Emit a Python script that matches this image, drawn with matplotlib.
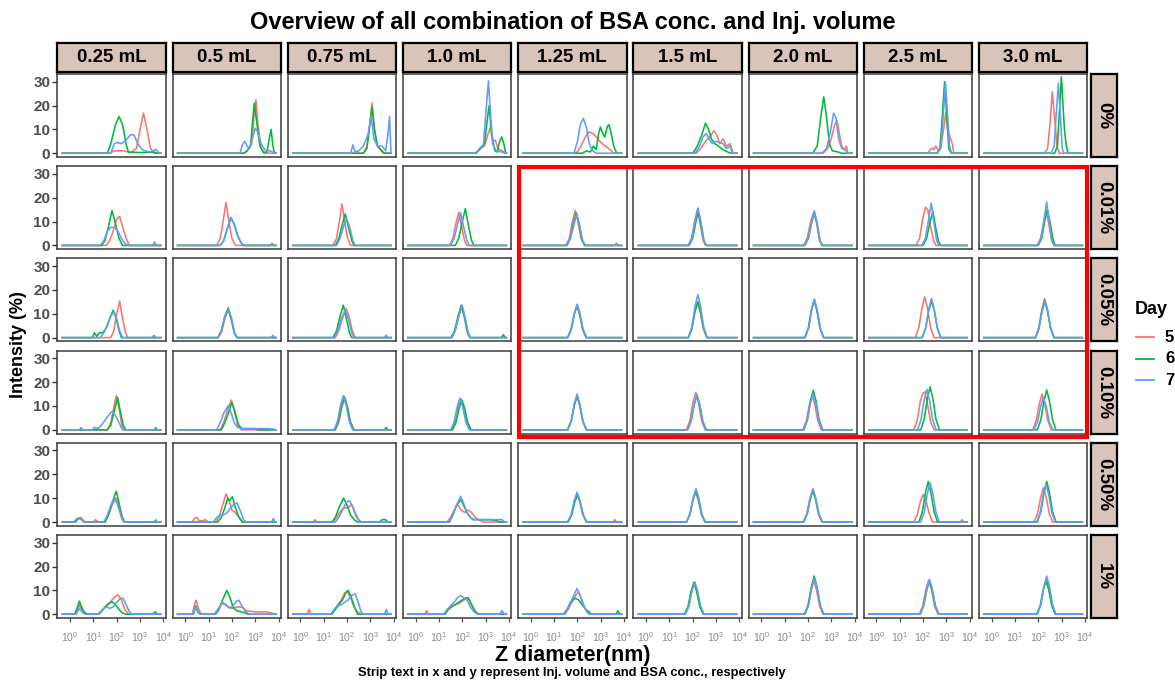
import numpy as np
import matplotlib
matplotlib.use("Agg")
import matplotlib.pyplot as plt
from matplotlib.patches import Rectangle
from matplotlib.lines import Line2D

plt.rcParams['font.family'] = ['Liberation Sans', 'DejaVu Sans']
plt.rcParams['mathtext.fontset'] = 'custom'
plt.rcParams['mathtext.rm'] = 'Liberation Sans'

# ---------------- data ----------------
TITLE = "Overview of all combination of BSA conc. and Inj. volume"
X_TITLE = "Z diameter(nm)"
Y_TITLE = "Intensity (%)"
CAPTION = "Strip text in x and y represent Inj. volume and BSA conc., respectively"
VOLUMES = ["0.25 mL", "0.5 mL", "0.75 mL", "1.0 mL", "1.25 mL", "1.5 mL", "2.0 mL", "2.5 mL", "3.0 mL"]
CONCS = ["0%", "0.01%", "0.05%", "0.10%", "0.50%", "1%"]
DAYS = ["5", "6", "7"]
DAY_COLORS = ["#F8766D", "#00BA38", "#619CFF"]
SIZE_RANGE_LOG = (-0.33, 3.89)   # log10 of measured size range (nm)
X_TICKS = [1, 10, 100, 1000, 10000]
X_TICK_LABELS = [r"$\mathregular{10^{0}}$", r"$\mathregular{10^{1}}$", r"$\mathregular{10^{2}}$",
                 r"$\mathregular{10^{3}}$", r"$\mathregular{10^{4}}$"]
Y_TICKS = [0, 10, 20, 30]

# each panel: (day5, day6, day7), each curve: list of (log10 diameter, intensity %)
CONC_0 = [
    ([(1.7,0),(1.9,1),(2.3,1),(2.6,0.3),(2.85,2),(3.0,10),(3.15,16.8),(3.3,10),(3.45,2),(3.6,0)],
     [(1.6,0),(1.75,4),(1.95,12),(2.1,15.4),(2.25,12),(2.4,4),(2.5,0.5),(3.0,0.3),(3.6,0.5),(3.7,0)],
     [(1.75,0),(1.9,4),(2.0,4.5),(2.2,4),(2.4,5.5),(2.6,7.8),(2.75,7.5),(2.9,4),(3.1,1.5),(3.4,0.5),(3.6,1.2),(3.7,1.6),(3.8,0)]),
    ([(2.55,0),(2.7,1.5),(2.85,4),(2.95,16),(3.03,22.4),(3.12,12),(3.25,2),(3.4,0)],
     [(2.5,0),(2.65,1),(2.8,3),(2.9,15),(2.96,21),(3.05,14),(3.2,3),(3.35,0.3),(3.5,0.5),(3.6,6),(3.68,10),(3.76,3),(3.82,0)],
     [(2.35,0),(2.45,3.5),(2.55,5),(2.65,3),(2.75,2),(2.9,7),(3.0,10.5),(3.1,9),(3.25,4),(3.4,1.5),(3.6,1),(3.75,0.5),(3.85,0)]),
    ([(2.7,0),(2.85,3),(2.95,10),(3.07,21),(3.17,10),(3.3,3),(3.45,1),(3.55,0)],
     [(2.7,0),(2.85,2),(2.97,12),(3.07,19.4),(3.17,10),(3.3,3),(3.5,1),(3.6,0)],
     [(2.15,0),(2.25,3.5),(2.35,0.5),(2.5,1),(2.7,3),(2.9,8),(3.03,15.5),(3.15,6),(3.3,3),(3.5,3),(3.65,1),(3.75,8),(3.82,15.4),(3.88,0)]),
    ([(2.6,0),(2.75,2),(2.95,3),(3.1,8),(3.22,11),(3.32,5),(3.42,5.5),(3.52,2),(3.7,1),(3.85,0)],
     [(2.6,0),(2.75,2),(2.95,4),(3.07,14),(3.15,20),(3.25,8),(3.4,1),(3.5,0.5),(3.6,5),(3.69,6.8),(3.78,4),(3.86,0)],
     [(2.5,0),(2.7,1),(2.9,3),(3.02,18),(3.12,30.3),(3.2,18),(3.3,4),(3.45,1),(3.7,0.5),(3.85,0)]),
    ([(1.95,0),(2.15,3),(2.35,7),(2.5,9),(2.7,8),(2.95,5),(3.2,3),(3.4,1.5),(3.55,0)],
     [(2.2,0),(2.4,1),(2.55,0.5),(2.68,3),(2.8,1.5),(2.9,8),(2.98,11),(3.1,8),(3.17,6.8),(3.27,11),(3.35,12),(3.45,8),(3.55,3),(3.68,0)],
     [(1.85,0),(2.0,5),(2.12,12),(2.25,14.6),(2.38,11),(2.5,4),(2.65,1),(2.8,0)]),
    ([(2.15,0),(2.35,2),(2.55,5),(2.75,7),(2.9,9.4),(3.02,8),(3.15,4),(3.3,6),(3.45,3),(3.6,4),(3.7,1),(3.75,0)],
     [(2.0,0),(2.2,3),(2.4,8),(2.55,12.6),(2.68,10),(2.8,6),(2.95,4),(3.1,3),(3.3,1.5),(3.5,0.5),(3.65,0)],
     [(2.1,0),(2.3,3),(2.45,7),(2.58,8.2),(2.7,6),(2.85,4),(3.0,5),(3.15,4.5),(3.3,4),(3.45,2),(3.6,3),(3.7,0)]),
    ([(2.65,0),(2.85,2),(3.0,6),(3.15,12),(3.25,13.6),(3.35,8),(3.45,3),(3.55,1.5),(3.65,3),(3.72,0)],
     [(2.2,0),(2.4,3),(2.55,15),(2.68,23.6),(2.8,15),(2.92,4),(3.05,1),(3.3,0.5),(3.45,0)],
     [(2.6,0),(2.8,2),(2.95,8),(3.1,16.8),(3.2,15),(3.32,6),(3.45,2),(3.6,1.5),(3.7,0)]),
    ([(2.2,0),(2.35,2),(2.45,1.5),(2.55,3),(2.65,1),(2.75,2),(2.88,10),(2.97,17),(3.05,10),(3.15,7),(3.25,4),(3.32,0)],
     [(2.6,0),(2.72,2),(2.82,15),(2.92,30),(3.02,15),(3.1,2),(3.2,0)],
     [(2.62,0),(2.75,2),(2.85,14),(2.96,29.5),(3.05,16),(3.13,3),(3.22,0)]),
    ([(2.25,0),(2.4,2),(2.5,12),(2.6,25.7),(2.7,15),(2.8,3),(2.9,0)],
     [(2.7,0),(2.82,3),(2.92,20),(2.99,32),(3.06,20),(3.12,10),(3.2,3),(3.28,0)],
     [(2.55,0),(2.68,3),(2.78,18),(2.86,29.3),(2.95,15),(3.03,2),(3.1,0)]),
]

CONC_001 = [
    ([(1.55,0),(1.7,2),(1.85,6),(2.0,11),(2.12,12.2),(2.25,8),(2.4,3),(2.55,0)],
     [(1.35,0),(1.5,2),(1.65,8),(1.8,14.6),(1.95,9),(2.1,3),(2.25,0)],
     [(1.3,0),(1.45,2),(1.6,6),(1.75,7.6),(1.9,7.5),(2.05,6),(2.2,3),(2.35,1),(2.5,0),(3.55,0),(3.62,1.5),(3.7,0)]),
    ([(1.35,0),(1.5,3),(1.62,10),(1.75,18),(1.87,10),(2.0,3),(2.15,0),(3.65,0),(3.72,1),(3.8,0)],
     [(1.5,0),(1.65,2),(1.8,7),(1.97,11.5),(2.1,9),(2.25,4),(2.4,1),(2.5,0)],
     [(1.5,0),(1.65,2),(1.8,7),(1.95,11.8),(2.08,9),(2.25,4),(2.4,1),(2.5,0)]),
    ([(1.4,0),(1.55,3),(1.67,10),(1.78,17.4),(1.9,10),(2.02,3),(2.15,0)],
     [(1.5,0),(1.65,3),(1.8,9),(1.92,13.2),(2.05,8),(2.2,2),(2.3,0)],
     [(1.55,0),(1.7,3),(1.85,8),(1.98,11.1),(2.1,8),(2.25,2),(2.35,0)]),
    ([(1.45,0),(1.6,3),(1.72,9),(1.85,13.9),(1.97,8),(2.1,2),(2.2,0)],
     [(1.7,0),(1.85,3),(2.0,10),(2.13,15.4),(2.25,9),(2.4,2),(2.5,0)],
     [(1.5,0),(1.65,3),(1.8,9),(1.93,13.6),(2.05,8),(2.2,2),(2.3,0)]),
    ([(1.5,0),(1.65,3),(1.78,10),(1.9,14.6),(2.02,10),(2.15,3),(2.3,0),(3.6,0),(3.67,1),(3.75,0)],
     [(1.55,0),(1.7,3),(1.82,9),(1.95,13.6),(2.07,9),(2.2,2),(2.32,0)],
     [(1.55,0),(1.7,3),(1.83,8),(1.96,12.9),(2.08,9),(2.22,2),(2.35,0)]),
    ([(1.8,0),(1.95,3),(2.08,10),(2.2,15),(2.32,9),(2.45,2),(2.55,0)],
     [(1.85,0),(2.0,3),(2.12,9),(2.23,14.3),(2.35,9),(2.48,2),(2.58,0)],
     [(1.82,0),(1.97,3),(2.1,10),(2.23,15.7),(2.35,10),(2.48,2),(2.58,0)]),
    ([(1.82,0),(1.97,3),(2.12,10),(2.25,14),(2.38,9),(2.5,2),(2.6,0)],
     [(1.87,0),(2.02,3),(2.15,9),(2.27,13.8),(2.4,9),(2.52,2),(2.62,0)],
     [(1.87,0),(2.02,3),(2.15,9),(2.28,14.5),(2.4,9),(2.52,2),(2.62,0)]),
    ([(1.7,0),(1.85,3),(1.98,11),(2.1,16),(2.2,15),(2.32,8),(2.45,2),(2.55,0)],
     [(2.0,0),(2.15,3),(2.28,9),(2.42,14.3),(2.53,8),(2.65,2),(2.75,0)],
     [(1.95,0),(2.1,3),(2.22,10),(2.35,17.8),(2.47,9),(2.58,2),(2.68,0)]),
    ([(1.95,0),(2.1,3),(2.22,9),(2.33,14.3),(2.45,9),(2.57,2),(2.67,0)],
     [(2.0,0),(2.15,3),(2.27,10),(2.38,15),(2.5,10),(2.62,3),(2.72,0)],
     [(1.98,0),(2.12,3),(2.25,11),(2.36,18.2),(2.47,10),(2.58,2),(2.68,0)]),
]

CONC_005 = [
    ([(1.75,0),(1.88,3),(2.0,10),(2.13,15.3),(2.25,8),(2.38,2),(2.48,0)],
     [(0.95,0),(1.05,2),(1.15,0.5),(1.25,2),(1.4,2),(1.55,4),(1.7,8),(1.85,11.5),(1.98,8),(2.1,3),(2.2,0)],
     [(1.3,0),(1.45,2),(1.6,5),(1.75,9),(1.88,10.8),(2.0,8),(2.12,3),(2.25,0),(3.5,0),(3.6,1),(3.7,0)]),
    ([(1.4,0),(1.55,2),(1.7,8),(1.84,11.5),(1.97,8),(2.1,2),(2.22,0)],
     [(1.4,0),(1.55,3),(1.7,9),(1.84,12.5),(1.97,8),(2.1,2),(2.22,0)],
     [(1.4,0),(1.55,3),(1.7,9),(1.86,12),(1.99,8),(2.12,2),(2.25,0),(3.68,0),(3.76,1),(3.84,0)]),
    ([(1.5,0),(1.65,3),(1.8,8),(1.96,12.2),(2.08,9),(2.22,3),(2.35,0)],
     [(1.4,0),(1.55,3),(1.7,9),(1.84,13.6),(1.97,8),(2.1,2),(2.2,0)],
     [(1.45,0),(1.6,3),(1.75,8),(1.92,11.5),(2.05,8),(2.2,2),(2.3,0),(3.6,0),(3.67,1),(3.75,0)]),
    ([(1.55,0),(1.7,3),(1.85,9),(1.98,13.5),(2.1,9),(2.25,2),(2.35,0)],
     [(1.52,0),(1.67,3),(1.82,9),(1.95,13.6),(2.08,9),(2.22,2),(2.32,0),(3.68,0),(3.76,1.2),(3.84,0)],
     [(1.55,0),(1.7,3),(1.85,9),(1.99,13.6),(2.11,9),(2.25,2),(2.35,0)]),
    ([(1.57,0),(1.72,3.3),(1.85,9.6),(1.97,13.3),(2.09,9.6),(2.22,3.3),(2.37,0)],
     [(1.58,0),(1.73,3.4),(1.86,9.8),(1.98,13.6),(2.1,9.8),(2.23,3.4),(2.38,0)],
     [(1.59,0),(1.74,3.5),(1.87,10),(1.99,14),(2.11,10),(2.24,3.5),(2.39,0)]),
    ([(1.8,0),(1.95,3.8),(2.08,10.8),(2.2,15),(2.32,10.8),(2.45,3.8),(2.6,0)],
     [(1.82,0),(1.97,3.8),(2.1,10.8),(2.22,15),(2.34,10.8),(2.47,3.8),(2.62,0)],
     [(1.82,0),(1.97,4.5),(2.1,13),(2.22,18),(2.34,13),(2.47,4.5),(2.62,0)]),
    ([(1.87,0),(2.02,3.9),(2.15,11.2),(2.27,15.5),(2.39,11.2),(2.52,3.9),(2.67,0)],
     [(1.87,0),(2.02,4),(2.15,11.4),(2.27,15.8),(2.39,11.4),(2.52,4),(2.67,0)],
     [(1.88,0),(2.03,4),(2.16,11.7),(2.28,16.2),(2.4,11.7),(2.53,4),(2.68,0)]),
    ([(1.67,0),(1.82,4.3),(1.95,12.3),(2.07,17.1),(2.19,12.3),(2.32,4.3),(2.47,0)],
     [(1.96,0),(2.11,3.9),(2.24,11.2),(2.36,15.5),(2.48,11.2),(2.61,3.9),(2.76,0)],
     [(1.96,0),(2.11,4.1),(2.24,11.8),(2.36,16.4),(2.48,11.8),(2.61,4.1),(2.76,0)]),
    ([(1.87,0),(2.02,4.1),(2.15,11.8),(2.27,16.4),(2.39,11.8),(2.52,4.1),(2.67,0)],
     [(1.88,0),(2.03,3.9),(2.16,11.2),(2.28,15.5),(2.4,11.2),(2.53,3.9),(2.68,0)],
     [(1.88,0),(2.03,3.8),(2.16,10.9),(2.28,15.2),(2.4,10.9),(2.53,3.8),(2.68,0)]),
]

CONC_010 = [
    ([(1.6,0),(1.75,3),(1.87,9),(1.98,14.3),(2.1,9),(2.22,2),(2.32,0)],
     [(1.6,0),(1.75,2),(1.9,8),(2.04,13.6),(2.15,8),(2.28,2),(2.38,0)],
     [(0.4,0),(0.47,1),(0.55,0),(0.95,0),(1.05,1),(1.2,0.5),(1.35,2),(1.5,4),(1.65,6),(1.8,7.8),(1.95,6),(2.1,3),(2.25,0),(3.6,0),(3.67,1),(3.75,0)]),
    ([(1.5,0),(1.65,3),(1.8,8),(1.98,12.5),(2.1,8),(2.25,2),(2.4,0)],
     [(1.55,0),(1.7,3),(1.85,7),(2.0,11.5),(2.12,8),(2.28,2),(2.45,0.5),(3.0,0.5),(3.1,0)],
     [(1.35,0),(1.5,3),(1.65,7),(1.84,10.1),(1.97,7),(2.1,3),(2.25,1),(2.5,0.5),(3.6,0.5),(3.8,0.3),(3.85,0)]),
    ([(1.5,0),(1.65,3.3),(1.78,9.6),(1.9,13.3),(2.02,9.6),(2.15,3.3),(2.3,0)],
     [(1.48,0),(1.63,3.5),(1.76,10),(1.88,13.9),(2.0,10),(2.13,3.5),(2.28,0),(3.6,0),(3.67,1),(3.74,0)],
     [(1.44,0),(1.59,3.6),(1.72,10.3),(1.84,14.3),(1.96,10.3),(2.09,3.6),(2.24,0)]),
    ([(1.55,0),(1.7,3.2),(1.83,9.2),(1.95,12.8),(2.07,9.2),(2.2,3.2),(2.35,0)],
     [(1.58,0),(1.73,3.1),(1.86,9),(1.98,12.5),(2.1,9),(2.23,3.1),(2.38,0)],
     [(1.5,0),(1.65,3.3),(1.78,9.6),(1.9,13.3),(2.02,9.6),(2.15,3.3),(2.3,0)]),
    ([(1.58,0),(1.73,3.5),(1.86,10.1),(1.98,14),(2.1,10.1),(2.23,3.5),(2.38,0)],
     [(1.58,0),(1.73,3.6),(1.86,10.3),(1.98,14.3),(2.1,10.3),(2.23,3.6),(2.38,0)],
     [(1.58,0),(1.73,3.8),(1.86,10.8),(1.98,15),(2.1,10.8),(2.23,3.8),(2.38,0)]),
    ([(1.73,0),(1.88,3.9),(2.01,11.3),(2.13,15.7),(2.25,11.3),(2.38,3.9),(2.53,0)],
     [(1.78,0),(1.93,3.6),(2.06,10.4),(2.18,14.5),(2.3,10.4),(2.43,3.6),(2.58,0)],
     [(1.78,0),(1.93,3.7),(2.06,10.7),(2.18,14.8),(2.3,10.7),(2.43,3.7),(2.58,0)]),
    ([(1.78,0),(1.93,3.6),(2.06,10.4),(2.18,14.5),(2.3,10.4),(2.43,3.6),(2.58,0)],
     [(1.83,0),(1.98,4.2),(2.11,12),(2.23,16.6),(2.35,12),(2.48,4.2),(2.63,0)],
     [(1.82,0),(1.97,3.8),(2.1,10.9),(2.22,15.2),(2.34,10.9),(2.47,3.8),(2.62,0)]),
    ([(1.6,0),(1.75,4),(1.88,12),(1.98,15),(2.08,16),(2.2,10),(2.33,3),(2.48,0)],
     [(1.9,0),(2.05,4.5),(2.18,13),(2.3,18),(2.42,13),(2.55,4.5),(2.7,0)],
     [(1.76,0),(1.91,4.2),(2.04,12.2),(2.16,17),(2.28,12.2),(2.41,4.2),(2.56,0)]),
    ([(1.76,0),(1.91,3.8),(2.04,10.8),(2.16,15),(2.28,10.8),(2.41,3.8),(2.56,0)],
     [(1.96,0),(2.11,4.2),(2.24,12),(2.36,16.7),(2.48,12),(2.61,4.2),(2.76,0)],
     [(1.82,0),(1.97,3.4),(2.1,9.8),(2.22,13.6),(2.34,9.8),(2.47,3.4),(2.62,0)]),
]

CONC_050 = [
    ([(0.25,0),(0.35,1.5),(0.45,2),(0.55,1),(0.65,0),(1.0,0),(1.1,1),(1.2,0),(1.5,0),(1.65,3),(1.8,7),(1.96,10.1),(2.1,7),(2.25,2),(2.35,0)],
     [(0.2,0),(0.3,1),(0.4,1.5),(0.5,1),(0.6,0),(1.5,0),(1.65,3),(1.8,8),(1.98,12.9),(2.1,8),(2.22,2),(2.32,0)],
     [(0.15,0),(0.3,1.5),(0.45,1.5),(0.6,0),(1.45,0),(1.6,3),(1.75,7),(1.9,10.1),(2.05,7),(2.2,2),(2.3,0),(3.6,0),(3.67,1),(3.75,0)]),
    ([(0.3,0),(0.4,1.5),(0.5,2),(0.6,0.5),(0.75,0.5),(0.85,1),(1.0,0),(1.3,0),(1.45,2),(1.6,7),(1.75,11.8),(1.88,9),(2.0,5),(2.15,4),(2.3,2),(2.45,0)],
     [(1.4,0),(1.55,2),(1.7,6),(1.82,10),(1.9,9),(2.02,10.6),(2.15,6),(2.3,2),(2.45,0)],
     [(1.2,0),(1.35,2),(1.5,3),(1.65,3),(1.8,4),(1.95,6),(2.1,7.5),(2.22,8),(2.35,5),(2.5,1),(2.6,0),(3.7,0),(3.78,1.5),(3.85,0)]),
    ([(0.55,0),(0.62,1),(0.7,0),(1.4,0),(1.55,2),(1.75,5),(1.9,6),(2.05,6),(2.2,7.4),(2.35,4),(2.5,1),(2.6,0)],
     [(1.35,0),(1.5,2),(1.65,6),(1.85,10.1),(2.0,7),(2.15,3),(2.3,1),(2.45,0),(3.4,0),(3.5,1),(3.65,1),(3.75,0)],
     [(1.5,0),(1.65,2),(1.8,5),(1.95,8),(2.1,9),(2.25,6),(2.4,2),(2.55,0)]),
    ([(1.35,0),(1.5,2),(1.65,5),(1.8,7.4),(1.95,5),(2.1,4),(2.25,5),(2.4,4),(2.55,2),(2.7,1),(2.9,0)],
     [(1.45,0),(1.6,3),(1.75,7),(1.95,9.4),(2.1,6),(2.25,3),(2.45,1),(3.2,1),(3.5,0.5),(3.6,0)],
     [(1.45,0),(1.6,3),(1.75,7),(1.93,10.8),(2.05,8),(2.2,4),(2.35,2),(2.5,1),(3.5,1),(3.7,1),(3.82,0)]),
    ([(1.58,0),(1.73,2.9),(1.86,8.3),(1.98,11.5),(2.1,8.3),(2.23,2.9),(2.38,0),(3.53,0),(3.6,1),(3.67,0)],
     [(1.6,0),(1.75,2.9),(1.88,8.3),(2.0,11.5),(2.12,8.3),(2.25,2.9),(2.4,0)],
     [(1.58,0),(1.73,3.1),(1.86,9),(1.98,12.5),(2.1,9),(2.23,3.1),(2.38,0)]),
    ([(1.73,0),(1.88,3.1),(2.01,9),(2.13,12.5),(2.25,9),(2.38,3.1),(2.53,0)],
     [(1.73,0),(1.88,3.3),(2.01,9.4),(2.13,13),(2.25,9.4),(2.38,3.3),(2.53,0)],
     [(1.74,0),(1.89,3.5),(2.02,10.1),(2.14,14),(2.26,10.1),(2.39,3.5),(2.54,0)]),
    ([(1.8,0),(1.95,3.4),(2.08,9.7),(2.2,13.5),(2.32,9.7),(2.45,3.4),(2.6,0)],
     [(1.82,0),(1.97,3.3),(2.1,9.5),(2.22,13.2),(2.34,9.5),(2.47,3.3),(2.62,0)],
     [(1.82,0),(1.97,3.5),(2.1,10),(2.22,13.9),(2.34,10),(2.47,3.5),(2.62,0)]),
    ([(1.6,0),(1.75,3),(1.88,8.5),(2.0,11.5),(2.12,9),(2.25,4),(2.4,0),(3.6,0),(3.67,1),(3.74,0)],
     [(1.82,0),(1.97,4.3),(2.1,12.2),(2.22,17),(2.34,12.2),(2.47,4.3),(2.62,0)],
     [(1.9,0),(2.05,4.1),(2.18,11.8),(2.3,16.4),(2.42,11.8),(2.55,4.1),(2.7,0)]),
    ([(1.82,0),(1.97,3.6),(2.1,10.3),(2.22,14.3),(2.34,10.3),(2.47,3.6),(2.62,0)],
     [(1.96,0),(2.11,4.3),(2.24,12.2),(2.36,17),(2.48,12.2),(2.61,4.3),(2.76,0)],
     [(1.93,0),(2.08,3.9),(2.21,11.3),(2.33,15.7),(2.45,11.3),(2.58,3.9),(2.73,0)]),
]

CONC_1 = [
    ([(0.25,0),(0.33,2),(0.4,4),(0.5,2),(0.6,0.5),(0.75,0),(1.2,0),(1.35,1),(1.5,3),(1.65,4),(1.8,6),(1.95,7.5),(2.05,8.2),(2.2,6),(2.35,2),(2.5,0)],
     [(0.2,0),(0.32,3),(0.4,5.5),(0.5,3),(0.6,1),(0.75,0),(1.2,0),(1.35,1.5),(1.5,3),(1.65,4.5),(1.8,5.2),(1.95,4),(2.1,2),(2.25,0.5),(2.4,0),(3.55,0),(3.65,1),(3.75,0)],
     [(0.25,0),(0.35,1.5),(0.42,2.5),(0.5,1),(0.65,0),(1.25,0),(1.4,2),(1.55,3),(1.7,2.5),(1.85,3),(2.0,5),(2.15,6.5),(2.27,6.7),(2.4,4),(2.55,1),(2.65,0)]),
    ([(0.3,0),(0.4,4),(0.47,5.9),(0.55,3),(0.65,0.5),(0.8,0),(1.25,0),(1.4,2),(1.55,4.5),(1.7,4),(1.85,3),(2.0,2.5),(2.2,3),(2.45,3),(2.6,1.5),(3.0,1),(3.5,1),(3.85,0)],
     [(0.35,0),(0.45,3.5),(0.55,1),(0.65,0),(1.3,0),(1.45,2),(1.6,6),(1.78,10),(1.92,7),(2.05,3),(2.2,1.5),(2.4,1),(2.6,0.5),(2.7,0)],
     [(0.35,0),(0.45,3),(0.55,0.5),(0.65,0),(1.25,0),(1.4,2),(1.6,5),(1.75,4),(1.9,2.5),(2.05,3.5),(2.2,5.5),(2.3,5.9),(2.45,3),(2.6,1),(2.75,0)]),
    ([(0.3,0),(0.37,2),(0.45,0),(1.3,0),(1.45,2),(1.6,4),(1.75,6),(1.9,9),(2.0,9.5),(2.15,7),(2.3,3),(2.45,1),(2.6,0)],
     [(1.35,0),(1.5,2),(1.65,4),(1.8,6),(1.95,9),(2.05,10),(2.18,7),(2.32,3),(2.45,0)],
     [(1.3,0),(1.45,2),(1.6,3.5),(1.75,4),(1.9,5),(2.05,6),(2.2,8),(2.35,8.5),(2.48,5),(2.6,1),(2.7,0),(3.6,0),(3.68,2),(3.76,0)]),
    ([(0.4,0),(0.47,1.5),(0.55,0),(1.25,0),(1.4,2),(1.55,3),(1.7,4),(1.85,4.5),(2.0,5.5),(2.15,6.5),(2.25,6.7),(2.4,4),(2.55,1.5),(2.7,0)],
     [(1.25,0),(1.4,2),(1.55,3.5),(1.7,4),(1.85,5),(2.0,6),(2.15,6.8),(2.25,6.9),(2.4,4),(2.55,1),(2.7,0)],
     [(1.2,0),(1.35,2),(1.5,3.5),(1.65,5),(1.8,7),(1.93,7.8),(2.05,7),(2.2,6),(2.35,3),(2.5,1),(2.65,0),(3.6,0),(3.7,1.5),(3.8,0)]),
    ([(1.45,0),(1.6,2),(1.75,5),(1.92,8),(2.05,9.4),(2.15,7),(2.3,3),(2.45,0.5),(2.55,0)],
     [(1.4,0),(1.55,2),(1.7,5),(1.9,6.7),(2.05,6),(2.2,4),(2.35,2),(2.5,1),(2.6,0),(3.65,0),(3.73,1.5),(3.8,0)],
     [(1.45,0),(1.6,3),(1.75,6),(1.98,10.8),(2.1,8),(2.25,4),(2.4,1),(2.5,0)]),
    ([(1.67,0),(1.82,3.3),(1.95,9.4),(2.07,13),(2.19,9.4),(2.32,3.3),(2.47,0)],
     [(1.65,0),(1.8,3.3),(1.93,9.6),(2.05,13.3),(2.17,9.6),(2.3,3.3),(2.45,0)],
     [(1.69,0),(1.84,3.4),(1.97,9.8),(2.09,13.6),(2.21,9.8),(2.34,3.4),(2.49,0)]),
    ([(1.85,0),(2.0,3.5),(2.13,10.1),(2.25,14),(2.37,10.1),(2.5,3.5),(2.65,0)],
     [(1.87,0),(2.02,4),(2.15,11.5),(2.27,16),(2.39,11.5),(2.52,4),(2.67,0)],
     [(1.88,0),(2.03,3.8),(2.16,10.8),(2.28,15),(2.4,10.8),(2.53,3.8),(2.68,0)]),
    ([(1.84,0),(1.99,3.6),(2.12,10.3),(2.24,14.3),(2.36,10.3),(2.49,3.6),(2.64,0)],
     [(1.87,0),(2.02,3.5),(2.15,10.1),(2.27,14),(2.39,10.1),(2.52,3.5),(2.67,0)],
     [(1.88,0),(2.03,3.6),(2.16,10.4),(2.28,14.5),(2.4,10.4),(2.53,3.6),(2.68,0)]),
    ([(1.95,0),(2.1,3.8),(2.23,10.8),(2.35,15),(2.47,10.8),(2.6,3.8),(2.75,0)],
     [(1.93,0),(2.08,3.5),(2.21,10.1),(2.33,14),(2.45,10.1),(2.58,3.5),(2.73,0)],
     [(1.96,0),(2.11,4),(2.24,11.5),(2.36,16),(2.48,11.5),(2.61,4),(2.76,0)]),
]

ROWS = [CONC_0, CONC_001, CONC_005, CONC_010, CONC_050, CONC_1]

# ---------------- layout (pixels) ----------------
W, H = 1175, 681
PANEL_LEFT, PANEL_TOP = 57.3, 74.0
PANEL_W, PANEL_H = 108.4, 83.0
STEP_X, STEP_Y = 115.2, 92.2
STRIP_FILL = "#D9C4BA"

fig = plt.figure(figsize=(W / 100, H / 100), dpi=100)
fig.patch.set_facecolor("white")


def px_axes(left, top, w, h, **kw):
    return fig.add_axes([left / W, 1 - (top + h) / H, w / W, h / H], **kw)


nrow, ncol = len(ROWS), len(VOLUMES)
for r, row in enumerate(ROWS):
    for c, panel in enumerate(row):
        left = PANEL_LEFT + c * STEP_X
        top = PANEL_TOP + r * STEP_Y
        ax = px_axes(left, top, PANEL_W, PANEL_H)
        ax.set_facecolor("white")
        for k, pts in enumerate(panel):
            lx = [SIZE_RANGE_LOG[0]] + [p[0] for p in pts] + [SIZE_RANGE_LOG[1]]
            ly = [0] + [p[1] for p in pts] + [0]
            ax.plot(10 ** np.array(lx), ly, color=DAY_COLORS[k], lw=1.15, solid_joinstyle="round")
        ax.set_xscale("log")
        ax.set_xlim(10 ** -0.545, 10 ** 4.1)
        ax.set_ylim(-1.58, 33.2)
        ax.xaxis.set_minor_locator(matplotlib.ticker.NullLocator())
        for s in ax.spines.values():
            s.set_color("#3a3a3a")
            s.set_linewidth(1.1)
        if c == 0:
            ax.set_yticks(Y_TICKS)
            ax.set_yticklabels([str(v) for v in Y_TICKS], fontsize=11, fontweight="bold", color="#4D4D4D")
            ax.tick_params(axis="y", length=3.5, width=1.0, color="#333333", pad=1.5)
        else:
            ax.set_yticks([])
        if r == nrow - 1:
            ax.set_xticks(X_TICKS)
            ax.set_xticklabels(X_TICK_LABELS, fontsize=7.5, color="#8A8A8A")
            ax.tick_params(axis="x", length=3, width=0.9, color="#555555", pad=6)
        else:
            ax.set_xticks([])

        if r == 0:
            sax = px_axes(left, 43.0, PANEL_W, 28.5)
            sax.set_facecolor(STRIP_FILL)
            sax.set_xticks([]); sax.set_yticks([])
            for s in sax.spines.values():
                s.set_color("black"); s.set_linewidth(1.6)
            sax.text(0.5, 0.5, VOLUMES[c], ha="center", va="center", fontsize=13.5,
                     fontweight="bold", transform=sax.transAxes)
        if c == ncol - 1:
            sax = px_axes(1090.5, top, 26.5, PANEL_H)
            sax.set_facecolor(STRIP_FILL)
            sax.set_xticks([]); sax.set_yticks([])
            for s in sax.spines.values():
                s.set_color("black"); s.set_linewidth(1.6)
            sax.text(0.5, 0.5, CONCS[r], ha="center", va="center", fontsize=13.5,
                     fontweight="bold", rotation=-90, transform=sax.transAxes)

# highlight rectangle
fig.add_artist(Rectangle((519 / W, 1 - 436.5 / H), (1087 - 519) / W, (436.5 - 166.5) / H,
                         transform=fig.transFigure, fill=False, ec="#FF0000", lw=3.0, zorder=20))

# titles
cx = (PANEL_LEFT + PANEL_LEFT + (ncol - 1) * STEP_X + PANEL_W) / 2 / W
fig.text(cx, 1 - 22 / H, TITLE, ha="center", va="center", fontsize=17, fontweight="bold")
fig.text(cx, 1 - 655 / H, X_TITLE, ha="center", va="center", fontsize=15.5, fontweight="bold")
fig.text(cx, 1 - 673 / H, CAPTION, ha="center", va="center", fontsize=9.3, fontweight="bold")
fig.text(19 / W, 1 - 345 / H, Y_TITLE, ha="center", va="center", rotation=90, fontsize=13, fontweight="bold")

# legend
fig.text(1135 / W, 1 - 310 / H, "Day", ha="left", va="center", fontsize=13, fontweight="bold")
for k, (lab, col) in enumerate(zip(DAYS, DAY_COLORS)):
    y = 1 - (337 + k * 21.7) / H
    fig.add_artist(Line2D([1136 / W, 1154 / W], [y, y], color=col, lw=1.3, transform=fig.transFigure))
    fig.text(1165 / W, y, lab, ha="left", va="center", fontsize=12, fontweight="bold")

fig.savefig("out.png", dpi=100, facecolor="white")
